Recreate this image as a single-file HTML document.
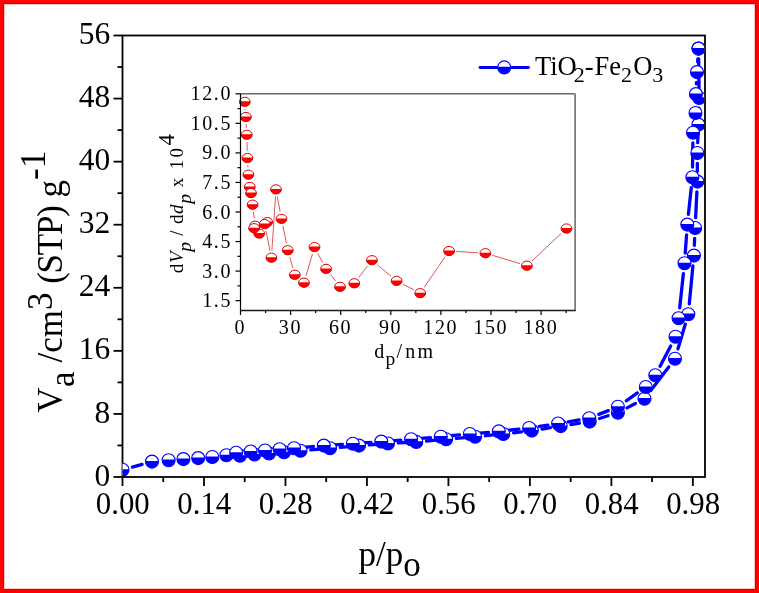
<!DOCTYPE html>
<html><head><meta charset="utf-8"><style>
html,body{margin:0;padding:0;background:#fff;}
#wrap{position:relative;width:759px;height:593px;overflow:hidden;}
#wrap svg{position:absolute;left:0;top:0;will-change:transform;}
#frame{position:absolute;left:0;top:0;width:759px;height:593px;box-sizing:border-box;border:3px solid #ff0000;box-shadow:inset 0 0 0 1px #c80606, inset 0 0 0 2px #ffc4c4;}
</style></head><body><div id="wrap">
<svg width="759" height="593" viewBox="0 0 759 593">
<defs>
<clipPath id="cm"><rect x="122.5" y="36.4" width="581.6" height="439.7"/></clipPath>
</defs>
<rect width="759" height="593" fill="#fff"/>
<g stroke="#000" stroke-width="1.8" fill="none">
<rect x="122.5" y="35.5" width="582.5" height="441.5"/>
<line x1="113.5" y1="477" x2="122.5" y2="477"/>
<line x1="113.5" y1="413.93" x2="122.5" y2="413.93"/>
<line x1="113.5" y1="350.86" x2="122.5" y2="350.86"/>
<line x1="113.5" y1="287.79" x2="122.5" y2="287.79"/>
<line x1="113.5" y1="224.71" x2="122.5" y2="224.71"/>
<line x1="113.5" y1="161.64" x2="122.5" y2="161.64"/>
<line x1="113.5" y1="98.57" x2="122.5" y2="98.57"/>
<line x1="113.5" y1="35.5" x2="122.5" y2="35.5"/>
<line x1="117.5" y1="445.46" x2="122.5" y2="445.46"/>
<line x1="117.5" y1="382.39" x2="122.5" y2="382.39"/>
<line x1="117.5" y1="319.32" x2="122.5" y2="319.32"/>
<line x1="117.5" y1="256.25" x2="122.5" y2="256.25"/>
<line x1="117.5" y1="193.18" x2="122.5" y2="193.18"/>
<line x1="117.5" y1="130.11" x2="122.5" y2="130.11"/>
<line x1="117.5" y1="67.04" x2="122.5" y2="67.04"/>
<line x1="122.5" y1="477" x2="122.5" y2="486"/>
<line x1="203.98" y1="477" x2="203.98" y2="486"/>
<line x1="285.46" y1="477" x2="285.46" y2="486"/>
<line x1="366.94" y1="477" x2="366.94" y2="486"/>
<line x1="448.42" y1="477" x2="448.42" y2="486"/>
<line x1="529.9" y1="477" x2="529.9" y2="486"/>
<line x1="611.38" y1="477" x2="611.38" y2="486"/>
<line x1="692.86" y1="477" x2="692.86" y2="486"/>
<line x1="163.24" y1="477" x2="163.24" y2="482"/>
<line x1="244.72" y1="477" x2="244.72" y2="482"/>
<line x1="326.2" y1="477" x2="326.2" y2="482"/>
<line x1="407.68" y1="477" x2="407.68" y2="482"/>
<line x1="489.16" y1="477" x2="489.16" y2="482"/>
<line x1="570.64" y1="477" x2="570.64" y2="482"/>
<line x1="652.12" y1="477" x2="652.12" y2="482"/>
</g>
<g clip-path="url(#cm)">
<line x1="132.42" y1="467.04" x2="142.08" y2="464.36" stroke="#0000ff" stroke-width="3.3" stroke-linecap="round"/>
<line x1="310.76" y1="449.9" x2="319.74" y2="449.1" stroke="#0000ff" stroke-width="3.3" stroke-linecap="round"/>
<line x1="340.26" y1="447.28" x2="348.74" y2="446.52" stroke="#0000ff" stroke-width="3.3" stroke-linecap="round"/>
<line x1="369.27" y1="444.86" x2="377.73" y2="444.24" stroke="#0000ff" stroke-width="3.3" stroke-linecap="round"/>
<line x1="398.28" y1="442.92" x2="406.02" y2="442.48" stroke="#0000ff" stroke-width="3.3" stroke-linecap="round"/>
<line x1="426.56" y1="441" x2="435.84" y2="440.2" stroke="#0000ff" stroke-width="3.3" stroke-linecap="round"/>
<line x1="456.36" y1="438.38" x2="464.84" y2="437.62" stroke="#0000ff" stroke-width="3.3" stroke-linecap="round"/>
<line x1="485.35" y1="435.72" x2="493.05" y2="434.98" stroke="#0000ff" stroke-width="3.3" stroke-linecap="round"/>
<line x1="513.53" y1="432.78" x2="521.57" y2="431.82" stroke="#0000ff" stroke-width="3.3" stroke-linecap="round"/>
<line x1="541.98" y1="429.02" x2="550.52" y2="427.68" stroke="#0000ff" stroke-width="3.3" stroke-linecap="round"/>
<line x1="570.88" y1="424.52" x2="579.52" y2="423.18" stroke="#0000ff" stroke-width="3.3" stroke-linecap="round"/>
<line x1="599.52" y1="418.5" x2="608.08" y2="415.8" stroke="#0000ff" stroke-width="3.3" stroke-linecap="round"/>
<line x1="627.01" y1="407.9" x2="635.39" y2="403.5" stroke="#0000ff" stroke-width="3.3" stroke-linecap="round"/>
<line x1="650.75" y1="390.51" x2="668.75" y2="366.89" stroke="#0000ff" stroke-width="3.3" stroke-linecap="round"/>
<line x1="677.95" y1="348.83" x2="685.35" y2="324.07" stroke="#0000ff" stroke-width="3.3" stroke-linecap="round"/>
<line x1="689.28" y1="303.95" x2="692.92" y2="265.85" stroke="#0000ff" stroke-width="3.3" stroke-linecap="round"/>
<line x1="694.35" y1="245.31" x2="694.65" y2="238.29" stroke="#0000ff" stroke-width="3.3" stroke-linecap="round"/>
<line x1="695.61" y1="217.71" x2="696.89" y2="191.89" stroke="#0000ff" stroke-width="3.3" stroke-linecap="round"/>
<line x1="697.36" y1="171.3" x2="697.34" y2="163.3" stroke="#0000ff" stroke-width="3.3" stroke-linecap="round"/>
<line x1="697.7" y1="142.71" x2="698" y2="134.89" stroke="#0000ff" stroke-width="3.3" stroke-linecap="round"/>
<line x1="698.71" y1="114.3" x2="698.89" y2="108.2" stroke="#0000ff" stroke-width="3.3" stroke-linecap="round"/>
<line x1="699.05" y1="87.6" x2="698.65" y2="58.9" stroke="#0000ff" stroke-width="3.3" stroke-linecap="round"/>
<line x1="697.84" y1="58.88" x2="697.66" y2="61.82" stroke="#0000ff" stroke-width="3.3" stroke-linecap="round"/>
<line x1="696.49" y1="82.39" x2="696.41" y2="83.81" stroke="#0000ff" stroke-width="3.3" stroke-linecap="round"/>
<line x1="692.86" y1="143" x2="692.54" y2="167" stroke="#0000ff" stroke-width="3.3" stroke-linecap="round"/>
<line x1="691.3" y1="187.54" x2="688.4" y2="214.36" stroke="#0000ff" stroke-width="3.3" stroke-linecap="round"/>
<line x1="686.56" y1="234.87" x2="685.24" y2="253.03" stroke="#0000ff" stroke-width="3.3" stroke-linecap="round"/>
<line x1="683.4" y1="273.54" x2="679.7" y2="307.96" stroke="#0000ff" stroke-width="3.3" stroke-linecap="round"/>
<line x1="670.71" y1="345.92" x2="660.09" y2="366.18" stroke="#0000ff" stroke-width="3.3" stroke-linecap="round"/>
<line x1="637.4" y1="392.96" x2="626.3" y2="400.84" stroke="#0000ff" stroke-width="3.3" stroke-linecap="round"/>
<line x1="608.33" y1="410.6" x2="598.77" y2="414.4" stroke="#0000ff" stroke-width="3.3" stroke-linecap="round"/>
<line x1="579.05" y1="419.93" x2="568.25" y2="421.77" stroke="#0000ff" stroke-width="3.3" stroke-linecap="round"/>
<line x1="547.92" y1="425.08" x2="539.28" y2="426.42" stroke="#0000ff" stroke-width="3.3" stroke-linecap="round"/>
<line x1="518.86" y1="429.15" x2="509.04" y2="430.25" stroke="#0000ff" stroke-width="3.3" stroke-linecap="round"/>
<line x1="488.54" y1="432.32" x2="480.06" y2="433.08" stroke="#0000ff" stroke-width="3.3" stroke-linecap="round"/>
<line x1="459.54" y1="434.95" x2="451.06" y2="435.75" stroke="#0000ff" stroke-width="3.3" stroke-linecap="round"/>
<line x1="430.54" y1="437.6" x2="421.36" y2="438.4" stroke="#0000ff" stroke-width="3.3" stroke-linecap="round"/>
<line x1="400.83" y1="440.09" x2="391.57" y2="440.81" stroke="#0000ff" stroke-width="3.3" stroke-linecap="round"/>
<line x1="371.03" y1="442.36" x2="363.07" y2="442.94" stroke="#0000ff" stroke-width="3.3" stroke-linecap="round"/>
<line x1="342.52" y1="444.37" x2="334.08" y2="444.93" stroke="#0000ff" stroke-width="3.3" stroke-linecap="round"/>
<line x1="313.54" y1="446.5" x2="304.26" y2="447.3" stroke="#0000ff" stroke-width="3.3" stroke-linecap="round"/>
<g transform="translate(122.5,469.8)"><circle r="6.5" fill="#fff"/><path d="M-6.47,-0.6A6.5,6.5 0 1 0 6.47,-0.6Z" fill="#00f"/><circle r="6.5" fill="none" stroke="#00f" stroke-width="1.1"/></g>
<g transform="translate(152,461.6)"><circle r="6.5" fill="#fff"/><path d="M-6.47,-0.6A6.5,6.5 0 1 0 6.47,-0.6Z" fill="#00f"/><circle r="6.5" fill="none" stroke="#00f" stroke-width="1.1"/></g>
<g transform="translate(168.6,460.2)"><circle r="6.5" fill="#fff"/><path d="M-6.47,-0.6A6.5,6.5 0 1 0 6.47,-0.6Z" fill="#00f"/><circle r="6.5" fill="none" stroke="#00f" stroke-width="1.1"/></g>
<g transform="translate(183.4,459.1)"><circle r="6.5" fill="#fff"/><path d="M-6.47,-0.6A6.5,6.5 0 1 0 6.47,-0.6Z" fill="#00f"/><circle r="6.5" fill="none" stroke="#00f" stroke-width="1.1"/></g>
<g transform="translate(198.2,458.1)"><circle r="6.5" fill="#fff"/><path d="M-6.47,-0.6A6.5,6.5 0 1 0 6.47,-0.6Z" fill="#00f"/><circle r="6.5" fill="none" stroke="#00f" stroke-width="1.1"/></g>
<g transform="translate(212.3,457)"><circle r="6.5" fill="#fff"/><path d="M-6.47,-0.6A6.5,6.5 0 1 0 6.47,-0.6Z" fill="#00f"/><circle r="6.5" fill="none" stroke="#00f" stroke-width="1.1"/></g>
<g transform="translate(226.4,455.3)"><circle r="6.5" fill="#fff"/><path d="M-6.47,-0.6A6.5,6.5 0 1 0 6.47,-0.6Z" fill="#00f"/><circle r="6.5" fill="none" stroke="#00f" stroke-width="1.1"/></g>
<g transform="translate(240,455.8)"><circle r="6.5" fill="#fff"/><path d="M-6.47,-0.6A6.5,6.5 0 1 0 6.47,-0.6Z" fill="#00f"/><circle r="6.5" fill="none" stroke="#00f" stroke-width="1.1"/></g>
<g transform="translate(254.5,454.5)"><circle r="6.5" fill="#fff"/><path d="M-6.47,-0.6A6.5,6.5 0 1 0 6.47,-0.6Z" fill="#00f"/><circle r="6.5" fill="none" stroke="#00f" stroke-width="1.1"/></g>
<g transform="translate(269,453.5)"><circle r="6.5" fill="#fff"/><path d="M-6.47,-0.6A6.5,6.5 0 1 0 6.47,-0.6Z" fill="#00f"/><circle r="6.5" fill="none" stroke="#00f" stroke-width="1.1"/></g>
<g transform="translate(284,452.3)"><circle r="6.5" fill="#fff"/><path d="M-6.47,-0.6A6.5,6.5 0 1 0 6.47,-0.6Z" fill="#00f"/><circle r="6.5" fill="none" stroke="#00f" stroke-width="1.1"/></g>
<g transform="translate(300.5,450.8)"><circle r="6.5" fill="#fff"/><path d="M-6.47,-0.6A6.5,6.5 0 1 0 6.47,-0.6Z" fill="#00f"/><circle r="6.5" fill="none" stroke="#00f" stroke-width="1.1"/></g>
<g transform="translate(330,448.2)"><circle r="6.5" fill="#fff"/><path d="M-6.47,-0.6A6.5,6.5 0 1 0 6.47,-0.6Z" fill="#00f"/><circle r="6.5" fill="none" stroke="#00f" stroke-width="1.1"/></g>
<g transform="translate(359,445.6)"><circle r="6.5" fill="#fff"/><path d="M-6.47,-0.6A6.5,6.5 0 1 0 6.47,-0.6Z" fill="#00f"/><circle r="6.5" fill="none" stroke="#00f" stroke-width="1.1"/></g>
<g transform="translate(388,443.5)"><circle r="6.5" fill="#fff"/><path d="M-6.47,-0.6A6.5,6.5 0 1 0 6.47,-0.6Z" fill="#00f"/><circle r="6.5" fill="none" stroke="#00f" stroke-width="1.1"/></g>
<g transform="translate(416.3,441.9)"><circle r="6.5" fill="#fff"/><path d="M-6.47,-0.6A6.5,6.5 0 1 0 6.47,-0.6Z" fill="#00f"/><circle r="6.5" fill="none" stroke="#00f" stroke-width="1.1"/></g>
<g transform="translate(446.1,439.3)"><circle r="6.5" fill="#fff"/><path d="M-6.47,-0.6A6.5,6.5 0 1 0 6.47,-0.6Z" fill="#00f"/><circle r="6.5" fill="none" stroke="#00f" stroke-width="1.1"/></g>
<g transform="translate(475.1,436.7)"><circle r="6.5" fill="#fff"/><path d="M-6.47,-0.6A6.5,6.5 0 1 0 6.47,-0.6Z" fill="#00f"/><circle r="6.5" fill="none" stroke="#00f" stroke-width="1.1"/></g>
<g transform="translate(503.3,434)"><circle r="6.5" fill="#fff"/><path d="M-6.47,-0.6A6.5,6.5 0 1 0 6.47,-0.6Z" fill="#00f"/><circle r="6.5" fill="none" stroke="#00f" stroke-width="1.1"/></g>
<g transform="translate(531.8,430.6)"><circle r="6.5" fill="#fff"/><path d="M-6.47,-0.6A6.5,6.5 0 1 0 6.47,-0.6Z" fill="#00f"/><circle r="6.5" fill="none" stroke="#00f" stroke-width="1.1"/></g>
<g transform="translate(560.7,426.1)"><circle r="6.5" fill="#fff"/><path d="M-6.47,-0.6A6.5,6.5 0 1 0 6.47,-0.6Z" fill="#00f"/><circle r="6.5" fill="none" stroke="#00f" stroke-width="1.1"/></g>
<g transform="translate(589.7,421.6)"><circle r="6.5" fill="#fff"/><path d="M-6.47,-0.6A6.5,6.5 0 1 0 6.47,-0.6Z" fill="#00f"/><circle r="6.5" fill="none" stroke="#00f" stroke-width="1.1"/></g>
<g transform="translate(617.9,412.7)"><circle r="6.5" fill="#fff"/><path d="M-6.47,-0.6A6.5,6.5 0 1 0 6.47,-0.6Z" fill="#00f"/><circle r="6.5" fill="none" stroke="#00f" stroke-width="1.1"/></g>
<g transform="translate(644.5,398.7)"><circle r="6.5" fill="#fff"/><path d="M-6.47,-0.6A6.5,6.5 0 1 0 6.47,-0.6Z" fill="#00f"/><circle r="6.5" fill="none" stroke="#00f" stroke-width="1.1"/></g>
<g transform="translate(675,358.7)"><circle r="6.5" fill="#fff"/><path d="M-6.47,-0.6A6.5,6.5 0 1 0 6.47,-0.6Z" fill="#00f"/><circle r="6.5" fill="none" stroke="#00f" stroke-width="1.1"/></g>
<g transform="translate(688.3,314.2)"><circle r="6.5" fill="#fff"/><path d="M-6.47,-0.6A6.5,6.5 0 1 0 6.47,-0.6Z" fill="#00f"/><circle r="6.5" fill="none" stroke="#00f" stroke-width="1.1"/></g>
<g transform="translate(693.9,255.6)"><circle r="6.5" fill="#fff"/><path d="M-6.47,-0.6A6.5,6.5 0 1 0 6.47,-0.6Z" fill="#00f"/><circle r="6.5" fill="none" stroke="#00f" stroke-width="1.1"/></g>
<g transform="translate(695.1,228)"><circle r="6.5" fill="#fff"/><path d="M-6.47,-0.6A6.5,6.5 0 1 0 6.47,-0.6Z" fill="#00f"/><circle r="6.5" fill="none" stroke="#00f" stroke-width="1.1"/></g>
<g transform="translate(697.4,181.6)"><circle r="6.5" fill="#fff"/><path d="M-6.47,-0.6A6.5,6.5 0 1 0 6.47,-0.6Z" fill="#00f"/><circle r="6.5" fill="none" stroke="#00f" stroke-width="1.1"/></g>
<g transform="translate(697.3,153)"><circle r="6.5" fill="#fff"/><path d="M-6.47,-0.6A6.5,6.5 0 1 0 6.47,-0.6Z" fill="#00f"/><circle r="6.5" fill="none" stroke="#00f" stroke-width="1.1"/></g>
<g transform="translate(698.4,124.6)"><circle r="6.5" fill="#fff"/><path d="M-6.47,-0.6A6.5,6.5 0 1 0 6.47,-0.6Z" fill="#00f"/><circle r="6.5" fill="none" stroke="#00f" stroke-width="1.1"/></g>
<g transform="translate(699.2,97.9)"><circle r="6.5" fill="#fff"/><path d="M-6.47,-0.6A6.5,6.5 0 1 0 6.47,-0.6Z" fill="#00f"/><circle r="6.5" fill="none" stroke="#00f" stroke-width="1.1"/></g>
<g transform="translate(698.5,48.6)"><circle r="6.5" fill="#fff"/><path d="M-6.47,-0.6A6.5,6.5 0 1 0 6.47,-0.6Z" fill="#00f"/><circle r="6.5" fill="none" stroke="#00f" stroke-width="1.1"/></g>
<g transform="translate(698.5,48.6)"><circle r="6.5" fill="#fff"/><path d="M-6.47,-0.6A6.5,6.5 0 1 0 6.47,-0.6Z" fill="#00f"/><circle r="6.5" fill="none" stroke="#00f" stroke-width="1.1"/></g>
<g transform="translate(697,72.1)"><circle r="6.5" fill="#fff"/><path d="M-6.47,-0.6A6.5,6.5 0 1 0 6.47,-0.6Z" fill="#00f"/><circle r="6.5" fill="none" stroke="#00f" stroke-width="1.1"/></g>
<g transform="translate(695.9,94.1)"><circle r="6.5" fill="#fff"/><path d="M-6.47,-0.6A6.5,6.5 0 1 0 6.47,-0.6Z" fill="#00f"/><circle r="6.5" fill="none" stroke="#00f" stroke-width="1.1"/></g>
<g transform="translate(695.5,113)"><circle r="6.5" fill="#fff"/><path d="M-6.47,-0.6A6.5,6.5 0 1 0 6.47,-0.6Z" fill="#00f"/><circle r="6.5" fill="none" stroke="#00f" stroke-width="1.1"/></g>
<g transform="translate(693,132.7)"><circle r="6.5" fill="#fff"/><path d="M-6.47,-0.6A6.5,6.5 0 1 0 6.47,-0.6Z" fill="#00f"/><circle r="6.5" fill="none" stroke="#00f" stroke-width="1.1"/></g>
<g transform="translate(692.4,177.3)"><circle r="6.5" fill="#fff"/><path d="M-6.47,-0.6A6.5,6.5 0 1 0 6.47,-0.6Z" fill="#00f"/><circle r="6.5" fill="none" stroke="#00f" stroke-width="1.1"/></g>
<g transform="translate(687.3,224.6)"><circle r="6.5" fill="#fff"/><path d="M-6.47,-0.6A6.5,6.5 0 1 0 6.47,-0.6Z" fill="#00f"/><circle r="6.5" fill="none" stroke="#00f" stroke-width="1.1"/></g>
<g transform="translate(684.5,263.3)"><circle r="6.5" fill="#fff"/><path d="M-6.47,-0.6A6.5,6.5 0 1 0 6.47,-0.6Z" fill="#00f"/><circle r="6.5" fill="none" stroke="#00f" stroke-width="1.1"/></g>
<g transform="translate(678.6,318.2)"><circle r="6.5" fill="#fff"/><path d="M-6.47,-0.6A6.5,6.5 0 1 0 6.47,-0.6Z" fill="#00f"/><circle r="6.5" fill="none" stroke="#00f" stroke-width="1.1"/></g>
<g transform="translate(675.5,336.8)"><circle r="6.5" fill="#fff"/><path d="M-6.47,-0.6A6.5,6.5 0 1 0 6.47,-0.6Z" fill="#00f"/><circle r="6.5" fill="none" stroke="#00f" stroke-width="1.1"/></g>
<g transform="translate(655.3,375.3)"><circle r="6.5" fill="#fff"/><path d="M-6.47,-0.6A6.5,6.5 0 1 0 6.47,-0.6Z" fill="#00f"/><circle r="6.5" fill="none" stroke="#00f" stroke-width="1.1"/></g>
<g transform="translate(645.8,387)"><circle r="6.5" fill="#fff"/><path d="M-6.47,-0.6A6.5,6.5 0 1 0 6.47,-0.6Z" fill="#00f"/><circle r="6.5" fill="none" stroke="#00f" stroke-width="1.1"/></g>
<g transform="translate(617.9,406.8)"><circle r="6.5" fill="#fff"/><path d="M-6.47,-0.6A6.5,6.5 0 1 0 6.47,-0.6Z" fill="#00f"/><circle r="6.5" fill="none" stroke="#00f" stroke-width="1.1"/></g>
<g transform="translate(589.2,418.2)"><circle r="6.5" fill="#fff"/><path d="M-6.47,-0.6A6.5,6.5 0 1 0 6.47,-0.6Z" fill="#00f"/><circle r="6.5" fill="none" stroke="#00f" stroke-width="1.1"/></g>
<g transform="translate(558.1,423.5)"><circle r="6.5" fill="#fff"/><path d="M-6.47,-0.6A6.5,6.5 0 1 0 6.47,-0.6Z" fill="#00f"/><circle r="6.5" fill="none" stroke="#00f" stroke-width="1.1"/></g>
<g transform="translate(529.1,428)"><circle r="6.5" fill="#fff"/><path d="M-6.47,-0.6A6.5,6.5 0 1 0 6.47,-0.6Z" fill="#00f"/><circle r="6.5" fill="none" stroke="#00f" stroke-width="1.1"/></g>
<g transform="translate(498.8,431.4)"><circle r="6.5" fill="#fff"/><path d="M-6.47,-0.6A6.5,6.5 0 1 0 6.47,-0.6Z" fill="#00f"/><circle r="6.5" fill="none" stroke="#00f" stroke-width="1.1"/></g>
<g transform="translate(469.8,434)"><circle r="6.5" fill="#fff"/><path d="M-6.47,-0.6A6.5,6.5 0 1 0 6.47,-0.6Z" fill="#00f"/><circle r="6.5" fill="none" stroke="#00f" stroke-width="1.1"/></g>
<g transform="translate(440.8,436.7)"><circle r="6.5" fill="#fff"/><path d="M-6.47,-0.6A6.5,6.5 0 1 0 6.47,-0.6Z" fill="#00f"/><circle r="6.5" fill="none" stroke="#00f" stroke-width="1.1"/></g>
<g transform="translate(411.1,439.3)"><circle r="6.5" fill="#fff"/><path d="M-6.47,-0.6A6.5,6.5 0 1 0 6.47,-0.6Z" fill="#00f"/><circle r="6.5" fill="none" stroke="#00f" stroke-width="1.1"/></g>
<g transform="translate(381.3,441.6)"><circle r="6.5" fill="#fff"/><path d="M-6.47,-0.6A6.5,6.5 0 1 0 6.47,-0.6Z" fill="#00f"/><circle r="6.5" fill="none" stroke="#00f" stroke-width="1.1"/></g>
<g transform="translate(352.8,443.7)"><circle r="6.5" fill="#fff"/><path d="M-6.47,-0.6A6.5,6.5 0 1 0 6.47,-0.6Z" fill="#00f"/><circle r="6.5" fill="none" stroke="#00f" stroke-width="1.1"/></g>
<g transform="translate(323.8,445.6)"><circle r="6.5" fill="#fff"/><path d="M-6.47,-0.6A6.5,6.5 0 1 0 6.47,-0.6Z" fill="#00f"/><circle r="6.5" fill="none" stroke="#00f" stroke-width="1.1"/></g>
<g transform="translate(294,448.2)"><circle r="6.5" fill="#fff"/><path d="M-6.47,-0.6A6.5,6.5 0 1 0 6.47,-0.6Z" fill="#00f"/><circle r="6.5" fill="none" stroke="#00f" stroke-width="1.1"/></g>
<g transform="translate(279.6,449.2)"><circle r="6.5" fill="#fff"/><path d="M-6.47,-0.6A6.5,6.5 0 1 0 6.47,-0.6Z" fill="#00f"/><circle r="6.5" fill="none" stroke="#00f" stroke-width="1.1"/></g>
<g transform="translate(265,450.5)"><circle r="6.5" fill="#fff"/><path d="M-6.47,-0.6A6.5,6.5 0 1 0 6.47,-0.6Z" fill="#00f"/><circle r="6.5" fill="none" stroke="#00f" stroke-width="1.1"/></g>
<g transform="translate(250.6,451.5)"><circle r="6.5" fill="#fff"/><path d="M-6.47,-0.6A6.5,6.5 0 1 0 6.47,-0.6Z" fill="#00f"/><circle r="6.5" fill="none" stroke="#00f" stroke-width="1.1"/></g>
<g transform="translate(236.1,452.8)"><circle r="6.5" fill="#fff"/><path d="M-6.47,-0.6A6.5,6.5 0 1 0 6.47,-0.6Z" fill="#00f"/><circle r="6.5" fill="none" stroke="#00f" stroke-width="1.1"/></g>
</g>
<g font-family="Liberation Serif" font-size="31.5" fill="#000">
<text x="110.2" y="485.6" text-anchor="end">0</text>
<text x="110.2" y="422.53" text-anchor="end">8</text>
<text x="110.2" y="359.46" text-anchor="end">16</text>
<text x="110.2" y="296.39" text-anchor="end">24</text>
<text x="110.2" y="233.31" text-anchor="end">32</text>
<text x="110.2" y="170.24" text-anchor="end">40</text>
<text x="110.2" y="107.17" text-anchor="end">48</text>
<text x="110.2" y="44.1" text-anchor="end">56</text>
<text x="122.8" y="514.3" text-anchor="middle" font-size="30.8">0.00</text>
<text x="204.28" y="514.3" text-anchor="middle" font-size="30.8">0.14</text>
<text x="285.76" y="514.3" text-anchor="middle" font-size="30.8">0.28</text>
<text x="367.24" y="514.3" text-anchor="middle" font-size="30.8">0.42</text>
<text x="448.72" y="514.3" text-anchor="middle" font-size="30.8">0.56</text>
<text x="530.2" y="514.3" text-anchor="middle" font-size="30.8">0.70</text>
<text x="611.68" y="514.3" text-anchor="middle" font-size="30.8">0.84</text>
<text x="693.16" y="514.3" text-anchor="middle" font-size="30.8">0.98</text>
</g>
<text font-family="Liberation Serif" font-size="35" x="358.6" y="565.8">p/p<tspan dy="10">o</tspan></text>
<text font-family="Liberation Serif" font-size="35" transform="translate(61.5,412.8) rotate(-90)">V<tspan dy="12" dx="4.5">a</tspan><tspan dy="-12"> /cm</tspan><tspan dy="-10">3</tspan><tspan dy="10"> </tspan><tspan letter-spacing="-1.2">(STP)</tspan><tspan> g</tspan><tspan dy="-17">-1</tspan></text>
<line x1="480" y1="67.5" x2="528.5" y2="67.5" stroke="#0000ff" stroke-width="2.8" stroke-linecap="round"/>
<g transform="translate(504.2,67.4)"><circle r="6.5" fill="#fff"/><path d="M-6.47,-0.6A6.5,6.5 0 1 0 6.47,-0.6Z" fill="#00f"/><circle r="6.5" fill="none" stroke="#00f" stroke-width="1.1"/></g>
<text font-family="Liberation Serif" font-size="26.5" x="535" y="74.9">TiO<tspan font-size="22" dy="7.4" dx="-3.1">2</tspan><tspan dy="-7.4">-</tspan><tspan dx="1">Fe</tspan><tspan font-size="22" dy="7.4">2</tspan><tspan dy="-7.4" dx="1.2">O</tspan><tspan font-size="22" dy="7.4">3</tspan></text>
<g clip-path="url(#ci)">
</g>
<g stroke="#d85a5a" stroke-width="1">
<line x1="245.32" y1="108.98" x2="245.38" y2="109.82"/>
<line x1="246.26" y1="124.19" x2="246.44" y2="127.61"/>
<line x1="246.99" y1="142" x2="247.21" y2="150.8"/>
<line x1="247.83" y1="165.19" x2="247.97" y2="167.51"/>
<line x1="253.45" y1="211.85" x2="254.25" y2="218.55"/>
<line x1="266.11" y1="231.16" x2="269.99" y2="250.64"/>
<line x1="271.88" y1="250.52" x2="275.52" y2="196.58"/>
<line x1="277.32" y1="196.48" x2="280.18" y2="211.82"/>
<line x1="282.92" y1="225.96" x2="286.38" y2="243.14"/>
<line x1="289.77" y1="257.13" x2="292.83" y2="267.87"/>
<line x1="306.04" y1="275.79" x2="312.46" y2="254.01"/>
<line x1="317.88" y1="253.46" x2="322.72" y2="262.54"/>
<line x1="330.52" y1="274.59" x2="335.58" y2="281.11"/>
<line x1="358.66" y1="277.57" x2="367.54" y2="265.93"/>
<line x1="377.42" y1="264.82" x2="391.08" y2="276.28"/>
<line x1="402.98" y1="284.23" x2="413.82" y2="289.87"/>
<line x1="424.27" y1="287.26" x2="445.03" y2="256.94"/>
<line x1="456.29" y1="251.44" x2="478.21" y2="252.76"/>
<line x1="492.29" y1="255.28" x2="520.01" y2="263.62"/>
<line x1="532.15" y1="260.77" x2="561.25" y2="233.43"/>
</g>
<g transform="translate(244.8,101.8)"><ellipse rx="5.4" ry="4.6" fill="#fff"/><path d="M-5.35,-0.5A5.4,4.6 0 1 0 5.35,-0.5Z" fill="#f00"/><ellipse rx="5.4" ry="4.6" fill="none" stroke="#e00000" stroke-width="1"/></g>
<g transform="translate(245.9,117)"><ellipse rx="5.4" ry="4.6" fill="#fff"/><path d="M-5.35,-0.5A5.4,4.6 0 1 0 5.35,-0.5Z" fill="#f00"/><ellipse rx="5.4" ry="4.6" fill="none" stroke="#e00000" stroke-width="1"/></g>
<g transform="translate(246.8,134.8)"><ellipse rx="5.4" ry="4.6" fill="#fff"/><path d="M-5.35,-0.5A5.4,4.6 0 1 0 5.35,-0.5Z" fill="#f00"/><ellipse rx="5.4" ry="4.6" fill="none" stroke="#e00000" stroke-width="1"/></g>
<g transform="translate(247.4,158)"><ellipse rx="5.4" ry="4.6" fill="#fff"/><path d="M-5.35,-0.5A5.4,4.6 0 1 0 5.35,-0.5Z" fill="#f00"/><ellipse rx="5.4" ry="4.6" fill="none" stroke="#e00000" stroke-width="1"/></g>
<g transform="translate(248.4,174.7)"><ellipse rx="5.4" ry="4.6" fill="#fff"/><path d="M-5.35,-0.5A5.4,4.6 0 1 0 5.35,-0.5Z" fill="#f00"/><ellipse rx="5.4" ry="4.6" fill="none" stroke="#e00000" stroke-width="1"/></g>
<g transform="translate(249.8,186.9)"><ellipse rx="5.4" ry="4.6" fill="#fff"/><path d="M-5.35,-0.5A5.4,4.6 0 1 0 5.35,-0.5Z" fill="#f00"/><ellipse rx="5.4" ry="4.6" fill="none" stroke="#e00000" stroke-width="1"/></g>
<g transform="translate(251,193.1)"><ellipse rx="5.4" ry="4.6" fill="#fff"/><path d="M-5.35,-0.5A5.4,4.6 0 1 0 5.35,-0.5Z" fill="#f00"/><ellipse rx="5.4" ry="4.6" fill="none" stroke="#e00000" stroke-width="1"/></g>
<g transform="translate(252.6,204.7)"><ellipse rx="5.4" ry="4.6" fill="#fff"/><path d="M-5.35,-0.5A5.4,4.6 0 1 0 5.35,-0.5Z" fill="#f00"/><ellipse rx="5.4" ry="4.6" fill="none" stroke="#e00000" stroke-width="1"/></g>
<g transform="translate(259.2,233.6)"><ellipse rx="5.4" ry="4.6" fill="#fff"/><path d="M-5.35,-0.5A5.4,4.6 0 1 0 5.35,-0.5Z" fill="#f00"/><ellipse rx="5.4" ry="4.6" fill="none" stroke="#e00000" stroke-width="1"/></g>
<g transform="translate(255.1,225.7)"><ellipse rx="5.4" ry="4.6" fill="#fff"/><path d="M-5.35,-0.5A5.4,4.6 0 1 0 5.35,-0.5Z" fill="#f00"/><ellipse rx="5.4" ry="4.6" fill="none" stroke="#e00000" stroke-width="1"/></g>
<g transform="translate(254.1,228.2)"><ellipse rx="5.4" ry="4.6" fill="#fff"/><path d="M-5.35,-0.5A5.4,4.6 0 1 0 5.35,-0.5Z" fill="#f00"/><ellipse rx="5.4" ry="4.6" fill="none" stroke="#e00000" stroke-width="1"/></g>
<g transform="translate(267.2,222.1)"><ellipse rx="5.4" ry="4.6" fill="#fff"/><path d="M-5.35,-0.5A5.4,4.6 0 1 0 5.35,-0.5Z" fill="#f00"/><ellipse rx="5.4" ry="4.6" fill="none" stroke="#e00000" stroke-width="1"/></g>
<g transform="translate(264.7,224.1)"><ellipse rx="5.4" ry="4.6" fill="#fff"/><path d="M-5.35,-0.5A5.4,4.6 0 1 0 5.35,-0.5Z" fill="#f00"/><ellipse rx="5.4" ry="4.6" fill="none" stroke="#e00000" stroke-width="1"/></g>
<g transform="translate(271.4,257.7)"><ellipse rx="5.4" ry="4.6" fill="#fff"/><path d="M-5.35,-0.5A5.4,4.6 0 1 0 5.35,-0.5Z" fill="#f00"/><ellipse rx="5.4" ry="4.6" fill="none" stroke="#e00000" stroke-width="1"/></g>
<g transform="translate(276,189.4)"><ellipse rx="5.4" ry="4.6" fill="#fff"/><path d="M-5.35,-0.5A5.4,4.6 0 1 0 5.35,-0.5Z" fill="#f00"/><ellipse rx="5.4" ry="4.6" fill="none" stroke="#e00000" stroke-width="1"/></g>
<g transform="translate(281.5,218.9)"><ellipse rx="5.4" ry="4.6" fill="#fff"/><path d="M-5.35,-0.5A5.4,4.6 0 1 0 5.35,-0.5Z" fill="#f00"/><ellipse rx="5.4" ry="4.6" fill="none" stroke="#e00000" stroke-width="1"/></g>
<g transform="translate(287.8,250.2)"><ellipse rx="5.4" ry="4.6" fill="#fff"/><path d="M-5.35,-0.5A5.4,4.6 0 1 0 5.35,-0.5Z" fill="#f00"/><ellipse rx="5.4" ry="4.6" fill="none" stroke="#e00000" stroke-width="1"/></g>
<g transform="translate(294.8,274.8)"><ellipse rx="5.4" ry="4.6" fill="#fff"/><path d="M-5.35,-0.5A5.4,4.6 0 1 0 5.35,-0.5Z" fill="#f00"/><ellipse rx="5.4" ry="4.6" fill="none" stroke="#e00000" stroke-width="1"/></g>
<g transform="translate(304,282.7)"><ellipse rx="5.4" ry="4.6" fill="#fff"/><path d="M-5.35,-0.5A5.4,4.6 0 1 0 5.35,-0.5Z" fill="#f00"/><ellipse rx="5.4" ry="4.6" fill="none" stroke="#e00000" stroke-width="1"/></g>
<g transform="translate(314.5,247.1)"><ellipse rx="5.4" ry="4.6" fill="#fff"/><path d="M-5.35,-0.5A5.4,4.6 0 1 0 5.35,-0.5Z" fill="#f00"/><ellipse rx="5.4" ry="4.6" fill="none" stroke="#e00000" stroke-width="1"/></g>
<g transform="translate(326.1,268.9)"><ellipse rx="5.4" ry="4.6" fill="#fff"/><path d="M-5.35,-0.5A5.4,4.6 0 1 0 5.35,-0.5Z" fill="#f00"/><ellipse rx="5.4" ry="4.6" fill="none" stroke="#e00000" stroke-width="1"/></g>
<g transform="translate(340,286.8)"><ellipse rx="5.4" ry="4.6" fill="#fff"/><path d="M-5.35,-0.5A5.4,4.6 0 1 0 5.35,-0.5Z" fill="#f00"/><ellipse rx="5.4" ry="4.6" fill="none" stroke="#e00000" stroke-width="1"/></g>
<g transform="translate(354.3,283.3)"><ellipse rx="5.4" ry="4.6" fill="#fff"/><path d="M-5.35,-0.5A5.4,4.6 0 1 0 5.35,-0.5Z" fill="#f00"/><ellipse rx="5.4" ry="4.6" fill="none" stroke="#e00000" stroke-width="1"/></g>
<g transform="translate(371.9,260.2)"><ellipse rx="5.4" ry="4.6" fill="#fff"/><path d="M-5.35,-0.5A5.4,4.6 0 1 0 5.35,-0.5Z" fill="#f00"/><ellipse rx="5.4" ry="4.6" fill="none" stroke="#e00000" stroke-width="1"/></g>
<g transform="translate(396.6,280.9)"><ellipse rx="5.4" ry="4.6" fill="#fff"/><path d="M-5.35,-0.5A5.4,4.6 0 1 0 5.35,-0.5Z" fill="#f00"/><ellipse rx="5.4" ry="4.6" fill="none" stroke="#e00000" stroke-width="1"/></g>
<g transform="translate(420.2,293.2)"><ellipse rx="5.4" ry="4.6" fill="#fff"/><path d="M-5.35,-0.5A5.4,4.6 0 1 0 5.35,-0.5Z" fill="#f00"/><ellipse rx="5.4" ry="4.6" fill="none" stroke="#e00000" stroke-width="1"/></g>
<g transform="translate(449.1,251)"><ellipse rx="5.4" ry="4.6" fill="#fff"/><path d="M-5.35,-0.5A5.4,4.6 0 1 0 5.35,-0.5Z" fill="#f00"/><ellipse rx="5.4" ry="4.6" fill="none" stroke="#e00000" stroke-width="1"/></g>
<g transform="translate(485.4,253.2)"><ellipse rx="5.4" ry="4.6" fill="#fff"/><path d="M-5.35,-0.5A5.4,4.6 0 1 0 5.35,-0.5Z" fill="#f00"/><ellipse rx="5.4" ry="4.6" fill="none" stroke="#e00000" stroke-width="1"/></g>
<g transform="translate(526.9,265.7)"><ellipse rx="5.4" ry="4.6" fill="#fff"/><path d="M-5.35,-0.5A5.4,4.6 0 1 0 5.35,-0.5Z" fill="#f00"/><ellipse rx="5.4" ry="4.6" fill="none" stroke="#e00000" stroke-width="1"/></g>
<g transform="translate(566.5,228.5)"><ellipse rx="5.4" ry="4.6" fill="#fff"/><path d="M-5.35,-0.5A5.4,4.6 0 1 0 5.35,-0.5Z" fill="#f00"/><ellipse rx="5.4" ry="4.6" fill="none" stroke="#e00000" stroke-width="1"/></g>
<g fill="none" stroke-width="1.2">
<line x1="240.5" y1="93.8" x2="575.1" y2="93.8" stroke="#686868" stroke-width="1.4"/>
<line x1="575.1" y1="93.8" x2="575.1" y2="310.5" stroke="#5a5a5a" stroke-width="1.4"/>
<line x1="240.5" y1="93.8" x2="240.5" y2="310.5" stroke="#000"/>
<line x1="240.5" y1="310.5" x2="575.7" y2="310.5" stroke="#1a1a1a" stroke-width="1.4"/>
<line x1="235.5" y1="300.65" x2="240.5" y2="300.65" stroke="#000"/>
<line x1="235.5" y1="271.1" x2="240.5" y2="271.1" stroke="#000"/>
<line x1="235.5" y1="241.55" x2="240.5" y2="241.55" stroke="#000"/>
<line x1="235.5" y1="212" x2="240.5" y2="212" stroke="#000"/>
<line x1="235.5" y1="182.45" x2="240.5" y2="182.45" stroke="#000"/>
<line x1="235.5" y1="152.9" x2="240.5" y2="152.9" stroke="#000"/>
<line x1="235.5" y1="123.35" x2="240.5" y2="123.35" stroke="#000"/>
<line x1="235.5" y1="93.8" x2="240.5" y2="93.8" stroke="#000"/>
<line x1="237.5" y1="285.88" x2="240.5" y2="285.88" stroke="#000"/>
<line x1="237.5" y1="256.32" x2="240.5" y2="256.32" stroke="#000"/>
<line x1="237.5" y1="226.78" x2="240.5" y2="226.78" stroke="#000"/>
<line x1="237.5" y1="197.23" x2="240.5" y2="197.23" stroke="#000"/>
<line x1="237.5" y1="167.68" x2="240.5" y2="167.68" stroke="#000"/>
<line x1="237.5" y1="138.12" x2="240.5" y2="138.12" stroke="#000"/>
<line x1="237.5" y1="108.58" x2="240.5" y2="108.58" stroke="#000"/>
<line x1="240.5" y1="310.5" x2="240.5" y2="315" stroke="#000"/>
<line x1="290.6" y1="310.5" x2="290.6" y2="315" stroke="#000"/>
<line x1="340.7" y1="310.5" x2="340.7" y2="315" stroke="#000"/>
<line x1="390.8" y1="310.5" x2="390.8" y2="315" stroke="#000"/>
<line x1="440.9" y1="310.5" x2="440.9" y2="315" stroke="#000"/>
<line x1="491" y1="310.5" x2="491" y2="315" stroke="#000"/>
<line x1="541.1" y1="310.5" x2="541.1" y2="315" stroke="#000"/>
<line x1="265.55" y1="310.5" x2="265.55" y2="313" stroke="#000"/>
<line x1="315.65" y1="310.5" x2="315.65" y2="313" stroke="#000"/>
<line x1="365.75" y1="310.5" x2="365.75" y2="313" stroke="#000"/>
<line x1="415.85" y1="310.5" x2="415.85" y2="313" stroke="#000"/>
<line x1="465.95" y1="310.5" x2="465.95" y2="313" stroke="#000"/>
<line x1="516.05" y1="310.5" x2="516.05" y2="313" stroke="#000"/>
<line x1="566.15" y1="310.5" x2="566.15" y2="313" stroke="#000"/>
</g>
<g font-family="Liberation Serif" font-size="20" fill="#000" letter-spacing="1.6">
<text x="232" y="307.15" text-anchor="end">1.5</text>
<text x="232" y="277.6" text-anchor="end">3.0</text>
<text x="232" y="248.05" text-anchor="end">4.5</text>
<text x="232" y="218.5" text-anchor="end">6.0</text>
<text x="232" y="188.95" text-anchor="end">7.5</text>
<text x="232" y="159.4" text-anchor="end">9.0</text>
<text x="232" y="129.85" text-anchor="end">10.5</text>
<text x="232" y="100.3" text-anchor="end">12.0</text>
<text x="240.3" y="333.7" text-anchor="middle">0</text>
<text x="290.4" y="333.7" text-anchor="middle">30</text>
<text x="340.5" y="333.7" text-anchor="middle">60</text>
<text x="390.6" y="333.7" text-anchor="middle">90</text>
<text x="440.7" y="333.7" text-anchor="middle">120</text>
<text x="490.8" y="333.7" text-anchor="middle">150</text>
<text x="540.9" y="333.7" text-anchor="middle">180</text>
</g>
<text font-family="Liberation Serif" font-size="20" y="358"><tspan x="374.3">d</tspan><tspan x="385.4" y="364.8" font-size="19.5">p</tspan><tspan x="396.6" y="358">/</tspan><tspan x="405.2">n</tspan><tspan x="417.6">m</tspan></text>
<g font-family="Liberation Serif" font-size="19" transform="translate(182.8,273.2) rotate(-90)"><text x="0" y="0" letter-spacing="0.8">d<tspan font-style="italic">V</tspan></text><text x="21.5" y="8.5" font-style="italic" font-size="19.5">p</text><text x="37.5" y="0">/</text><text x="49.2" y="0" letter-spacing="0.6">d<tspan font-style="italic">d</tspan></text><text x="69.5" y="8.5" font-style="italic" font-size="19.5">p</text><text x="86" y="0">x</text><text x="104" y="0" letter-spacing="2.2">10</text><text x="127.6" y="-9" font-size="22.5">4</text></g>
</svg>
<div id="frame"></div>
</div></body></html>
